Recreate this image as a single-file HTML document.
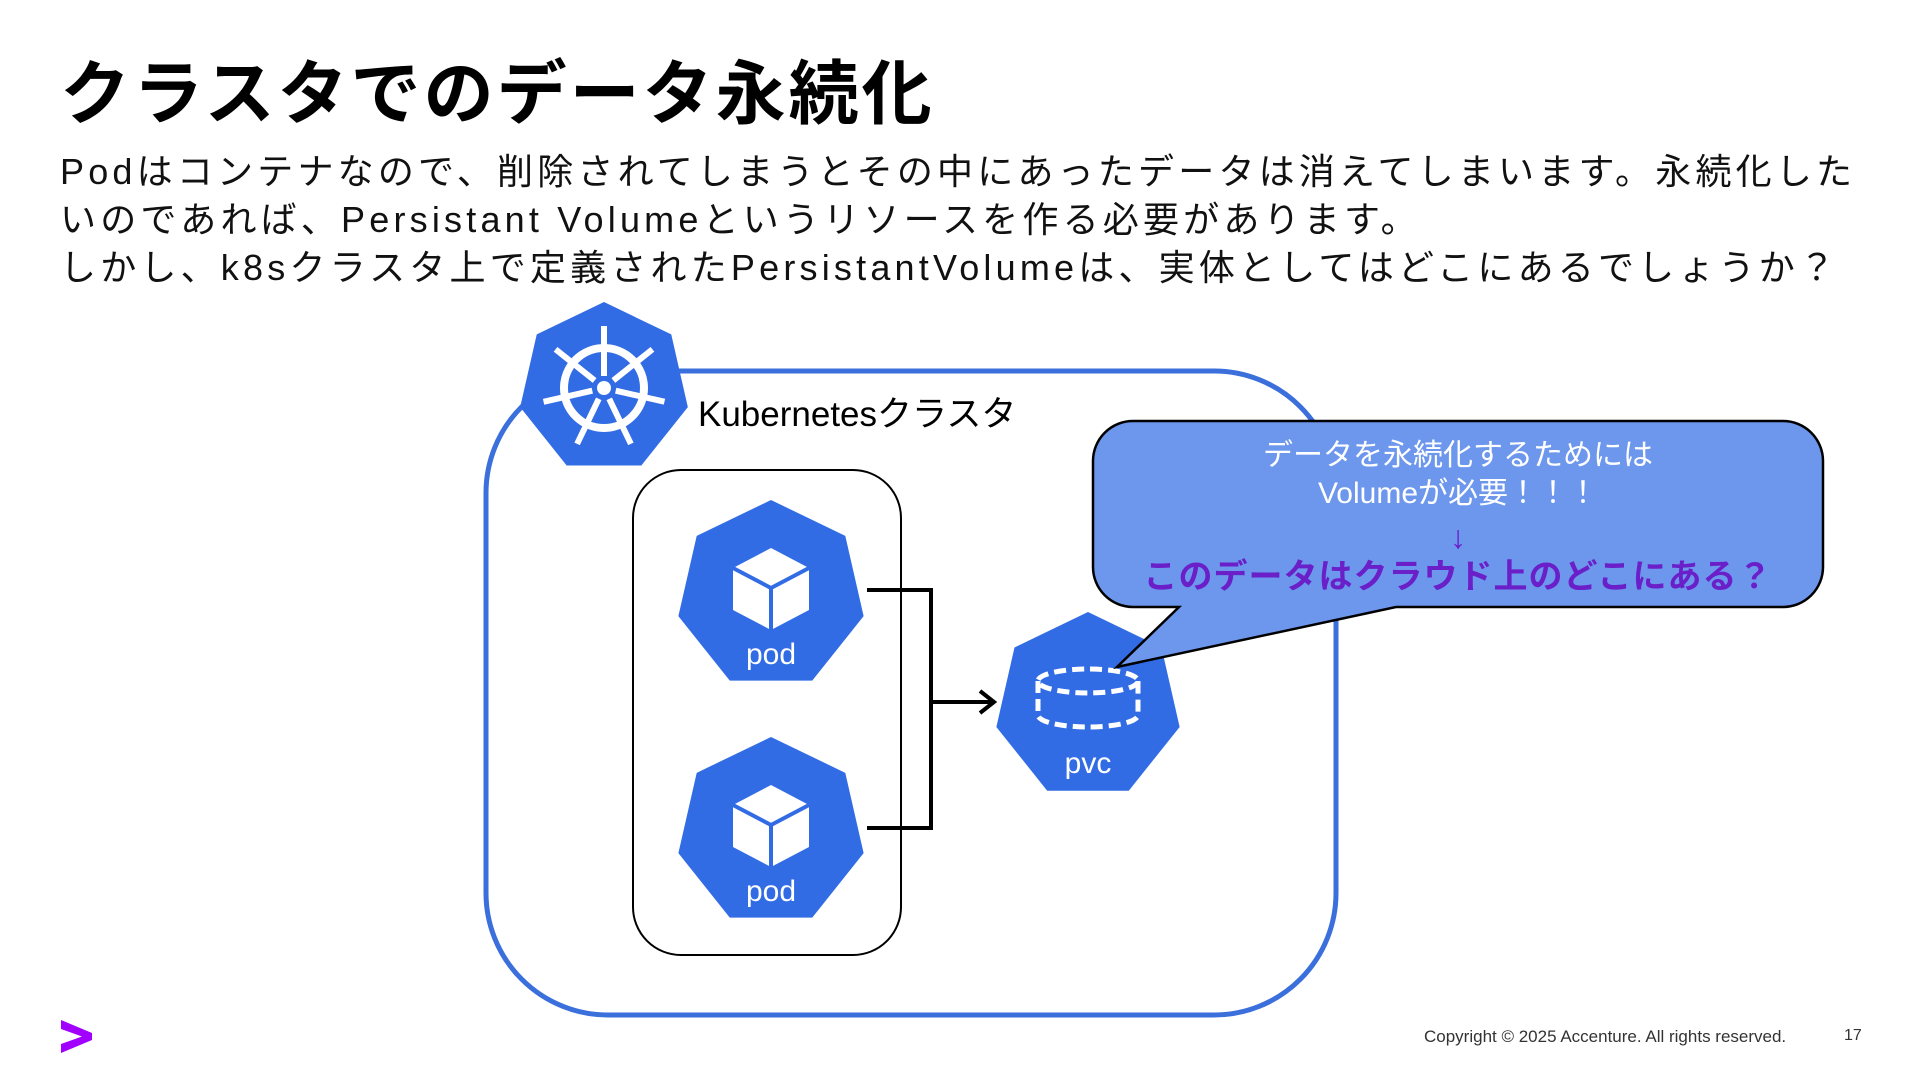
<!DOCTYPE html>
<html><head><meta charset="utf-8"><style>
body{margin:0;width:1920px;height:1080px;background:#fff;overflow:hidden;position:relative;font-family:"Liberation Sans","Noto Sans CJK JP",sans-serif;}
.t{position:absolute;white-space:nowrap;}
</style></head><body>
<div class="t" style="left:60px;top:38px;font-size:70px;font-weight:bold;color:#000;letter-spacing:3px;">クラスタでのデータ永続化</div>
<div class="t" style="left:60px;top:148px;font-size:36px;line-height:48px;color:#111;letter-spacing:4.2px;">Podはコンテナなので、削除されてしまうとその中にあったデータは消えてしまいます。永続化した<br>いのであれば、Persistant Volumeというリソースを作る必要があります。<br>しかし、k8sクラスタ上で定義されたPersistantVolumeは、実体としてはどこにあるでしょうか？</div>
<svg width="1920" height="1080" style="position:absolute;left:0;top:0">
<rect x="486" y="371" width="850" height="644" rx="122" fill="none" stroke="#3a6fdc" stroke-width="5"/>
<rect x="633" y="470" width="268" height="485" rx="48" fill="none" stroke="#000" stroke-width="2"/>
<defs>
<polygon id="hep" points="0,-1 0.782,-0.623 0.975,0.223 0.434,0.901 -0.434,0.901 -0.975,0.223 -0.782,-0.623"/>
</defs>
<g transform="translate(604,388) scale(86)"><use href="#hep" fill="#326ce5"/></g>
<g transform="translate(604,388)" stroke="#fff" fill="none">
<circle r="40" stroke-width="8"/><circle r="7" fill="#fff" stroke="none"/>
<g stroke-width="6">
<line x1="0" y1="-12" x2="0" y2="-62"/>
<line x1="0" y1="-12" x2="0" y2="-62" transform="rotate(51.4)"/>
<line x1="0" y1="-12" x2="0" y2="-62" transform="rotate(102.8)"/>
<line x1="0" y1="-12" x2="0" y2="-62" transform="rotate(154.3)"/>
<line x1="0" y1="-12" x2="0" y2="-62" transform="rotate(205.7)"/>
<line x1="0" y1="-12" x2="0" y2="-62" transform="rotate(257.1)"/>
<line x1="0" y1="-12" x2="0" y2="-62" transform="rotate(308.6)"/>
</g></g>
<g>
<g transform="translate(771,595) scale(95)"><use href="#hep" fill="#326ce5"/></g>
<polygon points="771,548 809,568 809,610 771,630 733,610 733,568" fill="#fff"/>
<polyline points="733,568 771,588 809,568" fill="none" stroke="#326ce5" stroke-width="4"/>
<line x1="771" y1="588" x2="771" y2="632" stroke="#326ce5" stroke-width="4"/>
<text x="771" y="664" font-size="30" fill="#fff" text-anchor="middle" font-family="Liberation Sans">pod</text>
</g>
<g transform="translate(0,237)">
<g transform="translate(771,595) scale(95)"><use href="#hep" fill="#326ce5"/></g>
<polygon points="771,548 809,568 809,610 771,630 733,610 733,568" fill="#fff"/>
<polyline points="733,568 771,588 809,568" fill="none" stroke="#326ce5" stroke-width="4"/>
<line x1="771" y1="588" x2="771" y2="632" stroke="#326ce5" stroke-width="4"/>
<text x="771" y="664" font-size="30" fill="#fff" text-anchor="middle" font-family="Liberation Sans">pod</text>
</g>
<g transform="translate(1088,706) scale(94)"><use href="#hep" fill="#326ce5"/></g>
<g fill="none" stroke="#fff" stroke-width="5" stroke-dasharray="12,6">
<ellipse cx="1088" cy="681" rx="50" ry="12"/>
<path d="M1038 681 V715 A50 12 0 0 0 1138 715 V681"/>
</g>
<text x="1088" y="773" font-size="30" fill="#fff" text-anchor="middle" font-family="Liberation Sans">pvc</text>
<polyline points="867,590 931,590 931,828 867,828" fill="none" stroke="#000" stroke-width="4"/>
<line x1="931" y1="702" x2="992" y2="702" stroke="#000" stroke-width="4"/>
<polyline points="980,691 994,702 980,713" fill="none" stroke="#000" stroke-width="4"/>
<path d="M1133 421 H1783 A40 40 0 0 1 1823 461 V567 A40 40 0 0 1 1783 607 H1396 L1117 667 L1179 607 H1133 A40 40 0 0 1 1093 567 V461 A40 40 0 0 1 1133 421 Z" fill="#6d97ec" stroke="#000" stroke-width="2.5"/>
<text x="1458" y="465" font-size="30" fill="#fff" text-anchor="middle" font-family="Liberation Sans,Noto Sans CJK JP,sans-serif">データを永続化するためには</text>
<text x="1458" y="503" font-size="30" fill="#fff" text-anchor="middle" font-family="Liberation Sans,Noto Sans CJK JP,sans-serif">Volumeが必要！！！</text>
<text x="1458" y="548" font-size="32" fill="#6a1fc9" text-anchor="middle" font-family="Liberation Sans,Noto Sans CJK JP,sans-serif">↓</text>
<text x="1458" y="588" font-size="34" font-weight="bold" fill="#6a1fc9" text-anchor="middle" letter-spacing="1" font-family="Liberation Sans,Noto Sans CJK JP,sans-serif">このデータはクラウド上のどこにある？</text>
<polygon points="61,1020 92,1033 92,1040 61,1053 61,1044 82,1036.5 61,1029" fill="#a100ff"/>
</svg>
<div class="t" style="left:698px;top:386px;font-size:35px;color:#000;">Kubernetesクラスタ</div>
<div class="t" style="left:1424px;top:1027px;font-size:17px;color:#333;">Copyright © 2025 Accenture. All rights reserved.</div>
<div class="t" style="left:1844px;top:1027px;font-size:16px;color:#333;">17</div>
</body></html>
